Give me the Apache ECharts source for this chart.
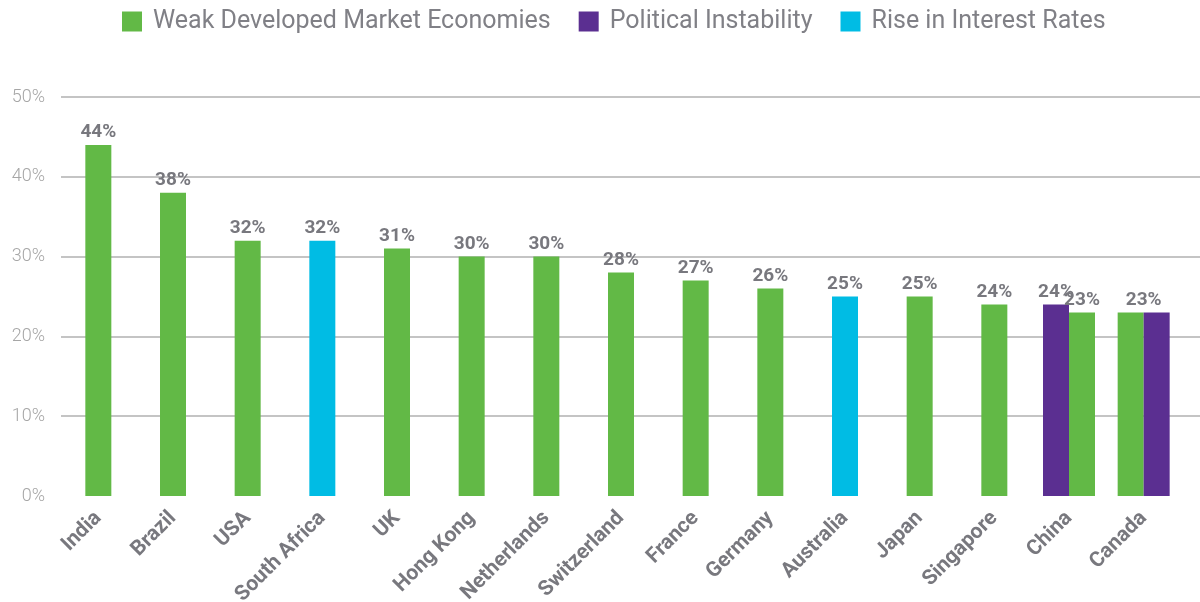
<!DOCTYPE html>
<html>
<head>
<meta charset="utf-8">
<script src="https://cdn.jsdelivr.net/npm/echarts@6/dist/echarts.min.js"></script>
<style>
html,body{margin:0;padding:0;background:#fff;}
#chart{width:1200px;height:602px;}
</style>
</head>
<body>
<div id="chart"></div>
<script>
const categories = ['India','Brazil','USA','South Africa','UK','Hong Kong','Netherlands','Switzerland','France','Germany','Australia','Japan','Singapore','China','Canada'];
const weakEconomies = [44,38,32,null,31,30,30,28,27,26,null,25,24,23,23];
const politicalInstability = [null,null,null,null,null,null,null,null,null,null,null,null,null,24,23];
const riseInRates = [null,null,null,32,null,null,null,null,null,null,25,null,null,null,null];
const yTicks = [0,10,20,30,40,50];

const GREEN = '#62b946', PURPLE = '#5b2f91', CYAN = '#00bce4';
const NAME_W = 'Weak Developed Market Economies', NAME_P = 'Political Instability', NAME_R = 'Rise in Interest Rates';
const LABEL_COLOR = '#78787e';

// single bars (centred) vs paired bars (side by side)
const centreWeak = [], leftSlot = [], rightSlot = [];
categories.forEach((c, i) => {
  const w = weakEconomies[i], p = politicalInstability[i];
  if (w != null && p != null) {
    const weakFirst = (c === 'Canada');
    const first = weakFirst ? {value: w, itemStyle: {color: GREEN}} : {value: p, itemStyle: {color: PURPLE}};
    const second = weakFirst ? {value: p, itemStyle: {color: PURPLE}} : {value: w, itemStyle: {color: GREEN}};
    if (w === p) { // one shared label centred over the pair
      first.label = {offset: [13, 0]};
      second.label = {show: false};
    }
    centreWeak.push(null); leftSlot.push(first); rightSlot.push(second);
  } else {
    centreWeak.push(w); leftSlot.push(null); rightSlot.push(null);
  }
});

const labelCfg = {
  show: true, position: 'top', distance: 3,
  formatter: p => p.value == null ? '' : p.value + '%',
  color: LABEL_COLOR, fontFamily: 'Roboto', fontWeight: 'bold', fontSize: 19
};

const chart = echarts.init(document.getElementById('chart'), null, {renderer: 'canvas'});
chart.setOption({
  animation: false,
  backgroundColor: '#ffffff',
  legend: {
    data: [NAME_W, NAME_P, NAME_R],
    top: 4, left: 117,
    icon: 'rect', itemWidth: 20, itemHeight: 20, itemGap: 28,
    textStyle: {fontFamily: 'Roboto', fontSize: 25, color: '#808086', padding: [0,0,0,6]}
  },
  grid: [
    {left: 61, right: 19, top: 97, bottom: 106, outerBoundsMode: 'none'},
    {left: 61, right: 0, top: 97, bottom: 106, outerBoundsMode: 'none'}
  ],
  xAxis: [{
    type: 'category', data: categories, gridIndex: 0,
    axisLine: {show: false}, axisTick: {show: false},
    axisLabel: {rotate: 45, interval: 0, margin: 19, color: LABEL_COLOR, fontFamily: 'Roboto', fontWeight: 'bold', fontSize: 21}
  }, {
    type: 'category', data: categories, gridIndex: 0, position: 'bottom', show: false
  }, {
    type: 'category', data: categories, gridIndex: 1, show: false
  }],
  yAxis: [{
    type: 'value', gridIndex: 0, min: 0, max: 50, interval: 10,
    axisLine: {show: false}, axisTick: {show: false}, axisLabel: {show: false}, splitLine: {show: false}
  }, {
    type: 'value', gridIndex: 1, min: 0, max: 50, interval: 10,
    axisLine: {show: false}, axisTick: {show: false},
    axisLabel: {formatter: v => yTicks.includes(v) ? v + '%' : '', margin: 16, color: '#a6a6a6', fontFamily: 'Roboto', fontWeight: 300, fontSize: 18},
    splitLine: {show: true, showMinLine: false, lineStyle: {color: '#b0b0b0', width: 1.5}}
  }],
  series: [
    {name: NAME_W, type: 'bar', xAxisIndex: 0, yAxisIndex: 0, data: centreWeak, barWidth: 26, barGap: '-100%', itemStyle: {color: GREEN}, label: labelCfg, z: 3},
    {name: NAME_R, type: 'bar', xAxisIndex: 0, yAxisIndex: 0, data: riseInRates, barWidth: 26, barGap: '-100%', itemStyle: {color: CYAN}, label: labelCfg, z: 3},
    {name: NAME_P, type: 'bar', xAxisIndex: 1, yAxisIndex: 0, data: leftSlot, barWidth: 26, barGap: 0, itemStyle: {color: PURPLE}, label: labelCfg, z: 3},
    {name: NAME_W, type: 'bar', xAxisIndex: 1, yAxisIndex: 0, data: rightSlot, barWidth: 26, barGap: 0, itemStyle: {color: GREEN}, label: labelCfg, z: 3}
  ]
});
</script>
</body>
</html>
